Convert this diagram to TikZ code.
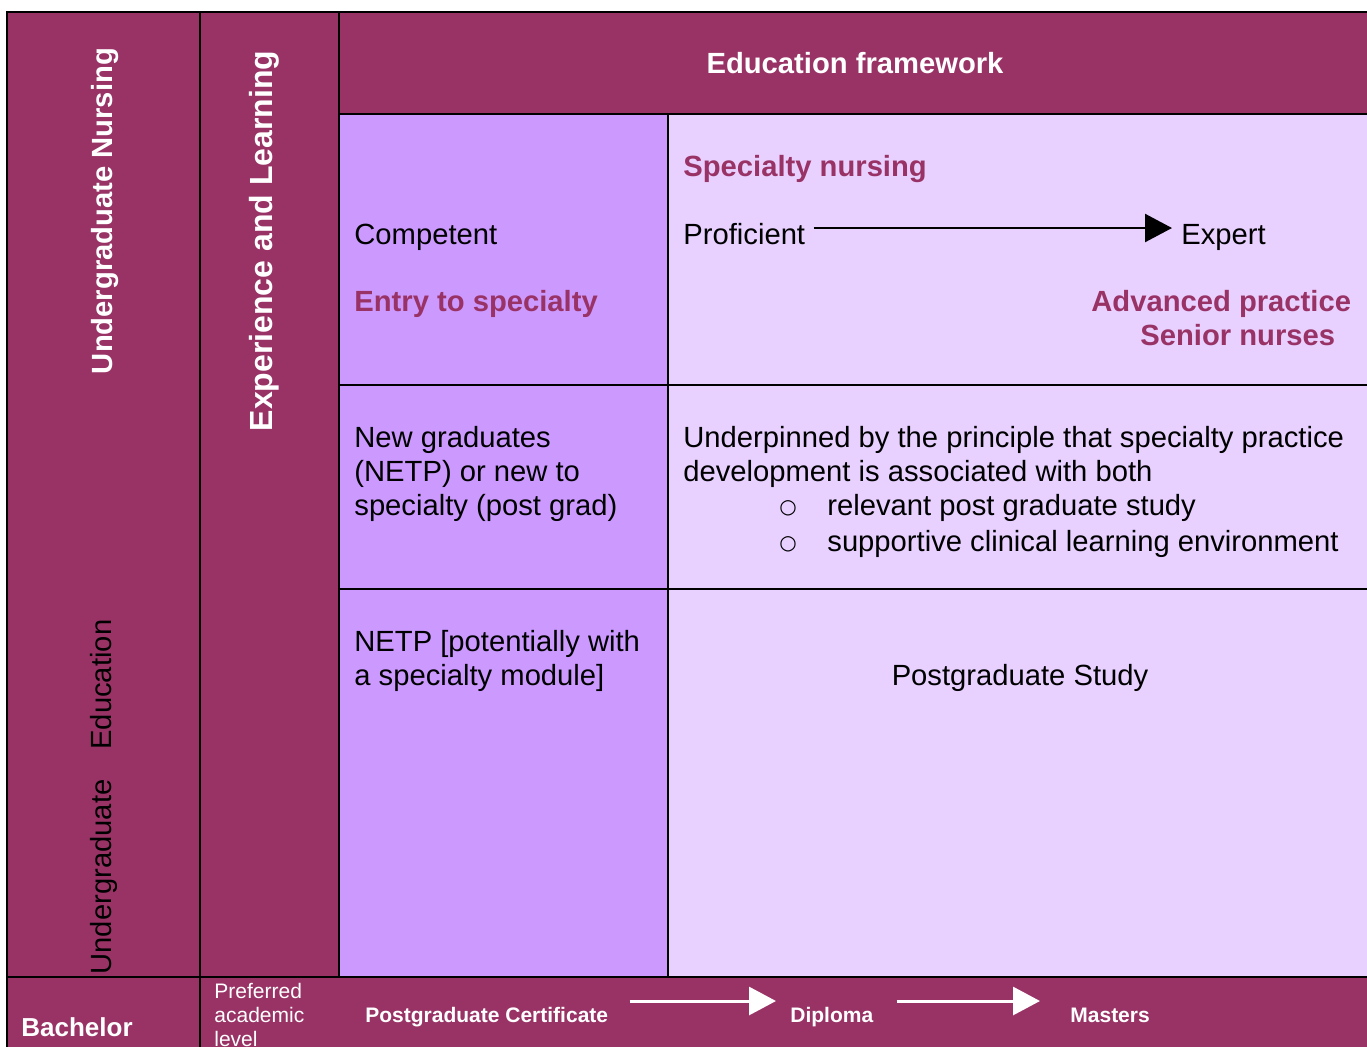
\documentclass[tikz,border=0pt]{standalone}
\usepackage{fontspec}
\setmainfont{Liberation Sans}
\newfontfamily\symfont{DejaVu Sans}
\usepackage{tikz}
\usetikzlibrary{positioning}
\usetikzlibrary{arrows.meta}
\definecolor{framemaroon}{HTML}{993366}
\definecolor{entrylilac}{HTML}{CC99FF}
\definecolor{specialtylilac}{HTML}{E8D0FF}

\begin{document}
\begin{tikzpicture}[x=0.5pt,y=-0.5pt,
  body/.style={inner sep=0pt,font=\fontsize{14.6}{17}\selectfont,align=left},
  heading/.style={body,font=\fontsize{14.6}{17}\selectfont\bfseries},
  small/.style={inner sep=0pt,font=\fontsize{10.5}{12}\selectfont,text=white,align=left},
  progress/.style={-{Triangle[length=13.5pt,width=14pt]},line width=1.25pt},
  levelstep/.style={-{Triangle[length=13.5pt,width=14pt]},line width=1.5pt,white}]
\useasboundingbox (0,0) rectangle (1367,1046);
\clip (0,0) rectangle (1367,1046);
\fill[framemaroon] (7,12) rectangle (1370,1050);
\fill[entrylilac] (339,114) rectangle (668,977);
\fill[specialtylilac] (668,114) rectangle (1370,977);
\draw[line width=1pt] (7,12) rectangle (1370,1050);
\draw[line width=1pt] (200,12) -- (200,1050);
\draw[line width=1pt] (339,12) -- (339,977);
\draw[line width=1pt] (668,114) -- (668,977);
\draw[line width=1pt] (339,114) -- (1370,114);
\draw[line width=1pt] (339,385) -- (1370,385);
\draw[line width=1pt] (339,589) -- (1370,589);
\draw[line width=1pt] (7,977) -- (1370,977);

\node[heading,text=white,rotate=90] (ugnursing) at (105,211) {Undergraduate Nursing};
\node[heading,font=\fontsize{16}{18}\selectfont\bfseries,text=white,rotate=90] (experience) at (264,241) {Experience and Learning};
\node[body,rotate=90] (ugeducation) at (104,797) {Undergraduate\hspace{15pt}Education};
\node[heading,text=white,anchor=base] (framework) at (855,73) {Education framework};

\node[body,anchor=base west] (competent) at (354,244) {Competent};
\node[heading,text=framemaroon,anchor=base west] (entry) at (354,311) {Entry to specialty};
\node[heading,text=framemaroon,anchor=base west] (specialty) at (683,176) {Specialty nursing};
\node[body,anchor=base west] (proficient) at (683,244) {Proficient};
\node[body,anchor=base west] (expert) at (1181,244) {Expert};
\node[heading,text=framemaroon,anchor=base west] (advanced) at (1091,311) {Advanced practice};
\node[heading,text=framemaroon,anchor=base west] (senior) at (1140,345) {Senior nurses};
\draw[progress] ([shift={(8,-16)}]proficient.base east) -- ([shift={(-9,-16)}]expert.base west);

\node[body,anchor=north west] (newgrad) at (354,426) {New graduates\\(NETP) or new to\\specialty (post grad)};
\node[body,anchor=north west] (principle) at (683,426) {Underpinned by the principle that specialty practice\\development is associated with both};
\node[body,anchor=base west] (study) at (827,515) {relevant post graduate study};
\node[body,anchor=base west] (environment) at (827,551) {supportive clinical learning environment};
\node[inner sep=0pt,font=\symfont\fontsize{10}{12}\selectfont] (bulletstudy) at (788,508) {○};
\node[inner sep=0pt,font=\symfont\fontsize{10}{12}\selectfont] (bulletenv) at (788,544) {○};

\node[body,anchor=north west] (netp) at (354,630) {NETP [potentially with\\a specialty module]};
\node[body,anchor=base] (pgstudy) at (1020,685) {Postgraduate Study};

\node[inner sep=0pt,font=\fontsize{13}{15}\selectfont\bfseries,text=white,anchor=base west] (bachelor) at (21,1036) {Bachelor};
\node[small,anchor=north west] (preferred) at (214,983) {Preferred\\academic\\level};
\node[small,font=\fontsize{10.5}{12}\selectfont\bfseries,anchor=base west] (pgcert) at (365,1022) {Postgraduate Certificate};
\node[small,font=\fontsize{10.5}{12}\selectfont\bfseries,anchor=base west] (diploma) at (790,1022) {Diploma};
\node[small,font=\fontsize{10.5}{12}\selectfont\bfseries,anchor=base west] (masters) at (1070,1022) {Masters};
\draw[levelstep] ([shift={(21,-21)}]pgcert.base east) -- ([shift={(-14,-21)}]diploma.base west);
\draw[levelstep] ([shift={(23,-21)}]diploma.base east) -- ([shift={(-30,-21)}]masters.base west);
\end{tikzpicture}
\end{document}
